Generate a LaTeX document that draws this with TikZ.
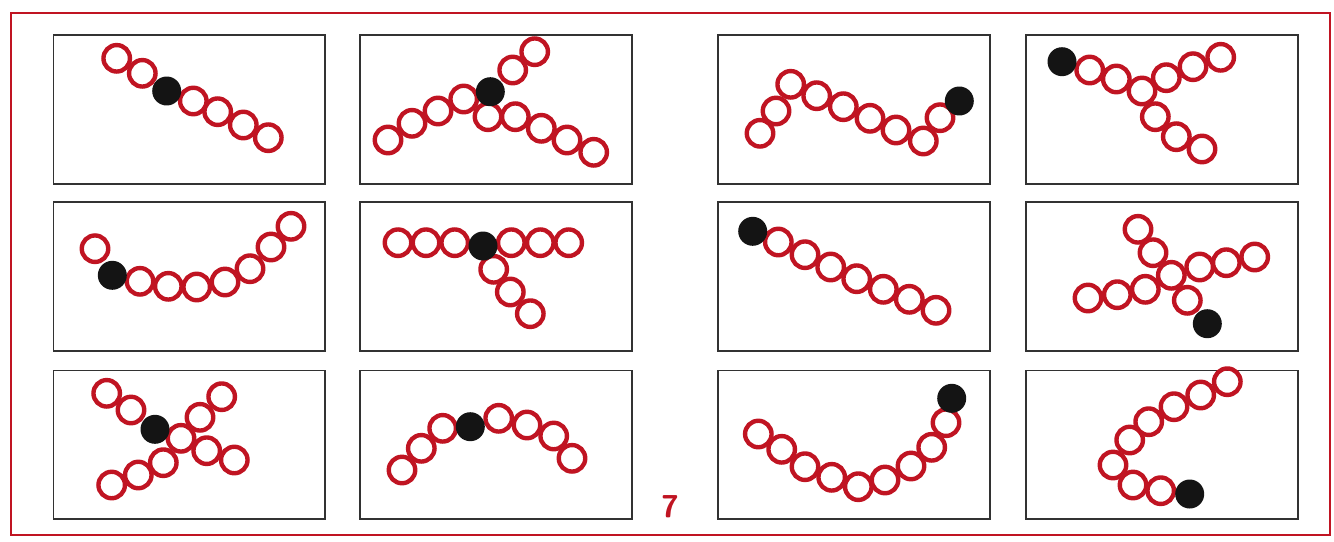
\documentclass[tikz,border=0pt]{standalone}
\usepackage{tikz}
\definecolor{beadred}{RGB}{192,20,34}
\definecolor{framegray}{RGB}{50,50,50}

\begin{document}
\begin{tikzpicture}[
  x=0.02cm, y=-0.02cm,
  border/.style={rectangle, draw=beadred, line width=1.4pt, minimum width=26.38cm, minimum height=10.44cm, anchor=north west, inner sep=0pt},
  panel/.style={rectangle, draw=framegray, line width=1.1pt, minimum width=5.44cm, minimum height=2.98cm, anchor=north west, inner sep=0pt},
  bead/.style={circle, draw=beadred, line width=2.5pt, minimum size=0.53cm, inner sep=0pt},
  core/.style={circle, fill=black!92, minimum size=0.58cm, inner sep=0pt},
  pagenum/.style={font=\sffamily\bfseries\fontsize{18}{18}\selectfont, text=beadred},
]
\useasboundingbox (0,0) rectangle (1334,541);

% Outer frame
\node[border] (frame) at (10,12) {};

% Panels: 3 rows x 4 columns
\foreach \c/\px in {1/52.5, 2/359, 3/717.3, 4/1025.3}
  \foreach \r/\py in {1/34.3, 2/201, 3/369.5}
    \node[panel] (panel-\r-\c) at (\px,\py) {};

% Row 1
\foreach \x/\y [count=\i] in {116.7/58.3, 142.3/73.3, 193.3/101, 217.7/111.7, 243.3/125, 268.3/137.7}
  \node[bead] (a-\i) at (\x,\y) {};
\node[core] (a-core) at (166.7,91) {};

\foreach \x/\y [count=\i] in {388/140, 412/123.3, 438/111, 463.7/99, 512.7/70, 534.7/51.7, 488/116.7, 515.3/116.7, 541.3/128.3, 567/140, 593.7/152.3}
  \node[bead] (b-\i) at (\x,\y) {};
\node[core] (b-core) at (490.3,91.7) {};

\foreach \x/\y [count=\i] in {760/133.3, 776/111, 790.7/84.3, 816.7/95.7, 843.3/106.7, 870/118.3, 896/130, 923.3/141, 940/117.7}
  \node[bead] (c-\i) at (\x,\y) {};
\node[core] (c-core) at (959.3,101) {};

\foreach \x/\y [count=\i] in {1089.7/70, 1116.3/79, 1142/91, 1166.3/77.7, 1193/66.7, 1220.7/57.3, 1155.3/116.7, 1176.3/136.7, 1202/149}
  \node[bead] (d-\i) at (\x,\y) {};
\node[core] (d-core) at (1062,61.7) {};

% Row 2
\foreach \x/\y [count=\i] in {95/248.7, 140/281.3, 168.3/286.3, 196.7/287, 225/282, 250/268.7, 271/247, 291/226.3}
  \node[bead] (e-\i) at (\x,\y) {};
\node[core] (e-core) at (112.3,275.3) {};

\foreach \x/\y [count=\i] in {398/242.7, 426/242.7, 454.7/242.7, 511.3/242.7, 540.3/242.7, 568.7/242.7, 493.7/269.3, 510.3/292, 530.3/313.7}
  \node[bead] (f-\i) at (\x,\y) {};
\node[core] (f-core) at (483,246) {};

\foreach \x/\y [count=\i] in {778.3/242, 805/254.7, 830.7/267, 856.7/278.7, 883.3/289.3, 909.3/299.3, 936/310.3}
  \node[bead] (g-\i) at (\x,\y) {};
\node[core] (g-core) at (752.7,231.3) {};

\foreach \x/\y [count=\i] in {1138/229.3, 1153/252.7, 1171.3/275.3, 1199.7/267, 1226.3/262.7, 1254.7/257, 1145.3/289.3, 1117.3/294.7, 1088/298, 1187.3/300.3}
  \node[bead] (h-\i) at (\x,\y) {};
\node[core] (h-core) at (1207.3,323.7) {};

% Row 3
\foreach \x/\y [count=\i] in {106.7/393.3, 131/410, 181/438.3, 200/417.3, 221.7/396.7, 206.7/450.7, 234.3/460, 163.3/462.7, 138.3/475, 111.7/485}
  \node[bead] (k-\i) at (\x,\y) {};
\node[core] (k-core) at (155,429.3) {};

\foreach \x/\y [count=\i] in {402/470, 421.3/448.3, 442.7/428.3, 498.7/418.3, 527/425, 553.7/436, 572/458.3}
  \node[bead] (m-\i) at (\x,\y) {};
\node[core] (m-core) at (470.3,426.7) {};

\foreach \x/\y [count=\i] in {758.3/434, 781.7/449.3, 805/466.7, 831.7/477.3, 858.3/486.7, 885/480, 911/466, 931.7/447.3, 946/422.7}
  \node[bead] (n-\i) at (\x,\y) {};
\node[core] (n-core) at (951.7,398.3) {};

\foreach \x/\y [count=\i] in {1227.3/381.7, 1200.7/395, 1174/406.7, 1148.7/421.7, 1129.7/440, 1113/465, 1133/485, 1160.7/490.7}
  \node[bead] (p-\i) at (\x,\y) {};
\node[core] (p-core) at (1189.7,494) {};

% Page number
\node[pagenum] (num) at (670,507) {7};

\end{tikzpicture}
\end{document}
